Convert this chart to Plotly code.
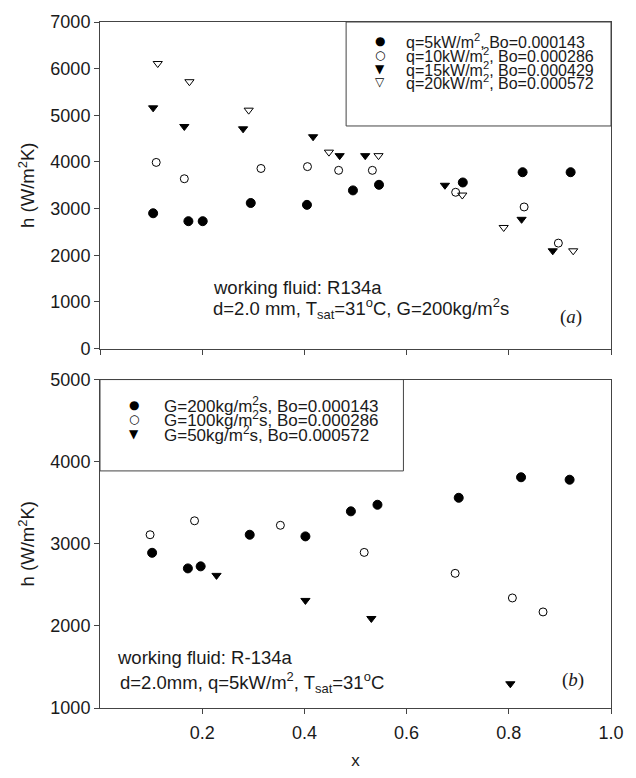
import plotly.graph_objects as go

# ---------------- data: panel (a) ----------------
x_q5 = [0.104, 0.173, 0.201, 0.295, 0.405, 0.495, 0.546, 0.710, 0.827, 0.921]
h_q5 = [2900, 2730, 2730, 3120, 3080, 3390, 3510, 3560, 3780, 3780]
x_q10 = [0.110, 0.165, 0.315, 0.406, 0.467, 0.533, 0.696, 0.830, 0.897]
h_q10 = [3990, 3640, 3860, 3900, 3820, 3820, 3350, 3035, 2260]
x_q15 = [0.104, 0.165, 0.280, 0.417, 0.469, 0.519, 0.675, 0.825, 0.886]
h_q15 = [5160, 4760, 4710, 4540, 4135, 4135, 3500, 2770, 2095]
x_q20 = [0.113, 0.175, 0.291, 0.448, 0.545, 0.709, 0.790, 0.926]
h_q20 = [6110, 5720, 5110, 4210, 4135, 3290, 2595, 2095]

# ---------------- data: panel (b) ----------------
x_G200 = [0.102, 0.172, 0.197, 0.293, 0.402, 0.491, 0.543, 0.702, 0.824, 0.919]
h_G200 = [2890, 2700, 2725, 3110, 3090, 3395, 3475, 3560, 3810, 3780]
x_G100 = [0.098, 0.185, 0.353, 0.517, 0.695, 0.807, 0.867]
h_G100 = [3110, 3280, 3225, 2895, 2640, 2340, 2170]
x_G50 = [0.228, 0.402, 0.531, 0.803]
h_G50 = [2615, 2310, 2090, 1295]

labels_a = ["q=5kW/m<sup>2</sup>, Bo=0.000143", "q=10kW/m<sup>2</sup>, Bo=0.000286",
            "q=15kW/m<sup>2</sup>, Bo=0.000429", "q=20kW/m<sup>2</sup>, Bo=0.000572"]
labels_b = ["G=200kg/m<sup>2</sup>s, Bo=0.000143", "G=100kg/m<sup>2</sup>s, Bo=0.000286",
            "G=50kg/m<sup>2</sup>s, Bo=0.000572"]
legend_syms_a = ["●", "○", "▼", "▽"]
legend_syms_b = ["●", "○", "▼"]

x_tickvals = [0.2, 0.4, 0.6, 0.8, 1.0]
x_ticktext = ["0.2", "0.4", "0.6", "0.8", "1.0"]

FONT = "Liberation Sans, Arial, sans-serif"
LINE = "#444"
TC = "#1a1a1a"

fig = go.Figure()

def add(x, y, symbol, size, name, xa, ya):
    fig.add_trace(go.Scatter(
        x=x, y=y, mode="markers", name=name, showlegend=False,
        xaxis=xa, yaxis=ya,
        marker=dict(symbol=symbol, size=size, color="black",
                    line=dict(color="black", width=1)),
    ))

add(x_q5, h_q5, "circle", 9, labels_a[0], "x", "y")
add(x_q10, h_q10, "circle-open", 8, labels_a[1], "x", "y")
add(x_q15, h_q15, "triangle-down", 8, labels_a[2], "x", "y")
add(x_q20, h_q20, "triangle-down-open", 8, labels_a[3], "x", "y")

add(x_G200, h_G200, "circle", 9, labels_b[0], "x2", "y2")
add(x_G100, h_G100, "circle-open", 8, labels_b[1], "x2", "y2")
add(x_G50, h_G50, "triangle-down", 8, labels_b[2], "x2", "y2")

axis_common = dict(showline=True, linecolor=LINE, linewidth=1, mirror=True,
                   ticks="outside", ticklen=5, tickcolor=LINE, showgrid=False,
                   zeroline=False, tickfont=dict(family=FONT, size=18, color=TC))

ytitle = dict(text="h (W/m<sup>2</sup>K)", font=dict(family=FONT, size=18.5, color=TC), standoff=10)

fig.update_layout(
    width=636, height=778,
    margin=dict(l=100, r=19, t=18, b=54),
    paper_bgcolor="white", plot_bgcolor="white",
    font=dict(family=FONT, color=TC),
    xaxis=dict(domain=[0, 1], range=[0, 1], anchor="y", tickvals=[0, 0.2, 0.4, 0.6, 0.8, 1.0],
               showticklabels=False, **axis_common),
    yaxis=dict(domain=[0.524, 1], range=[0, 7000], dtick=1000, anchor="x",
               title=ytitle, **axis_common),
    xaxis2=dict(domain=[0, 1], range=[0, 1], anchor="y2", tickvals=x_tickvals, ticktext=x_ticktext,
                ticklabelstandoff=3,
                title=dict(text="x", font=dict(family=FONT, size=17, color=TC), standoff=12),
                **axis_common),
    yaxis2=dict(domain=[0, 0.4788], range=[1000, 5000], dtick=1000, anchor="x2",
                title=ytitle, **axis_common),
)

W, H = 517.0, 706.0
def px(x):
    return (x - 100) / W
def py(y):
    return (724 - y) / H

shapes = [
    dict(type="rect", xref="paper", yref="paper", x0=px(349), x1=1, y0=py(125), y1=1,
         line=dict(color=LINE, width=1), fillcolor="rgba(0,0,0,0)"),
    dict(type="rect", xref="paper", yref="paper", x0=0, x1=px(407), y0=py(480), y1=py(386),
         line=dict(color=LINE, width=1), fillcolor="rgba(0,0,0,0)"),
]
fig.update_layout(shapes=shapes)

ann = []
SYMFONT = "DejaVu Sans"
rows_a = [38, 52, 66, 80]
for sym, lab, r in zip(legend_syms_a, labels_a, rows_a):
    ann.append(dict(x=px(383), y=py(r), xref="paper", yref="paper", text=sym, showarrow=False,
                    xanchor="center", yanchor="middle", font=dict(family=SYMFONT, size=12, color="black")))
    ann.append(dict(x=px(408), y=py(r), xref="paper", yref="paper", text=lab, showarrow=False,
                    xanchor="left", yanchor="middle", font=dict(family=FONT, size=16, color=TC)))
rows_b = [412, 427, 442]
for sym, lab, r in zip(legend_syms_b, labels_b, rows_b):
    ann.append(dict(x=px(134), y=py(r), xref="paper", yref="paper", text=sym, showarrow=False,
                    xanchor="center", yanchor="middle", font=dict(family=SYMFONT, size=12, color="black")))
    ann.append(dict(x=px(163), y=py(r), xref="paper", yref="paper", text=lab, showarrow=False,
                    xanchor="left", yanchor="middle", font=dict(family=FONT, size=17, color=TC)))

TXT = dict(family=FONT, size=18.5, color=TC)
ann += [
    dict(x=px(212), y=py(291), xref="paper", yref="paper", text="working fluid: R134a",
         showarrow=False, xanchor="left", yanchor="middle", font=TXT),
    dict(x=px(212), y=py(313), xref="paper", yref="paper",
         text="d=2.0 mm, T<sub>sat</sub>=31<sup>o</sup>C, G=200kg/m<sup>2</sup>s",
         showarrow=False, xanchor="left", yanchor="middle", font=TXT),
    dict(x=px(577), y=py(322), xref="paper", yref="paper", text="(<i>a</i>)",
         showarrow=False, xanchor="center", yanchor="middle",
         font=dict(family="Liberation Serif, Times New Roman, serif", size=19, color=TC)),
    dict(x=px(115), y=py(672), xref="paper", yref="paper", text="working fluid: R-134a",
         showarrow=False, xanchor="left", yanchor="middle", font=TXT),
    dict(x=px(118), y=py(698), xref="paper", yref="paper",
         text="d=2.0mm, q=5kW/m<sup>2</sup>, T<sub>sat</sub>=31<sup>o</sup>C",
         showarrow=False, xanchor="left", yanchor="middle", font=TXT),
    dict(x=px(579), y=py(695), xref="paper", yref="paper", text="(<i>b</i>)",
         showarrow=False, xanchor="center", yanchor="middle",
         font=dict(family="Liberation Serif, Times New Roman, serif", size=19, color=TC)),
]
fig.update_layout(annotations=ann)

fig.write_html("out.html")
